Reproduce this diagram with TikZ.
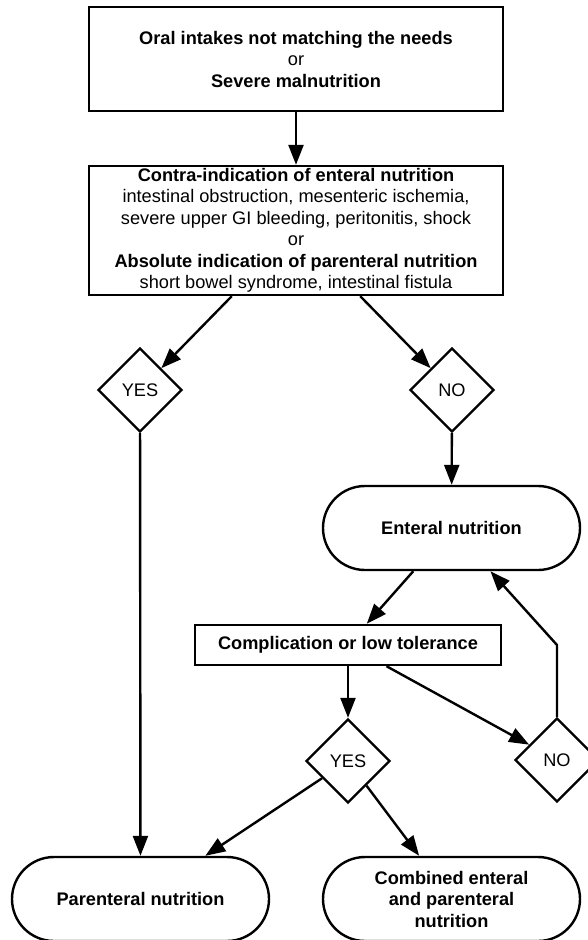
\documentclass[tikz,border=0pt]{standalone}
\usepackage{fontspec}
\setmainfont{Liberation Sans}
\usetikzlibrary{shapes.geometric,arrows.meta}

\begin{document}
\begin{tikzpicture}[x=1pt,y=-1pt,line width=2.4pt,
 font=\fontsize{18.2}{21.5}\selectfont,
 >={Triangle[length=20pt,width=15pt]},
 block/.style={rectangle,draw,align=center,inner sep=0pt},
 decision/.style={diamond,draw,minimum size=84pt,inner sep=0pt},
 terminal/.style={rectangle,draw,rounded corners=42pt,minimum width=257pt,
   minimum height=84pt,align=center,inner sep=0pt,font=\fontsize{18.2}{21.5}\selectfont\bfseries}]

  \useasboundingbox (0,0) rectangle (587,940);

  \node[block,minimum width=414pt,minimum height=104pt] (oral) at (296,59)
   {\textbf{Oral intakes not matching the needs}\\or\\\textbf{Severe malnutrition}};
  \node[block,minimum width=414pt,minimum height=129pt] (contra) at (296,230.5)
   {\textbf{Contra-indication of enteral nutrition}\\
    intestinal obstruction, mesenteric ischemia,\\
    severe upper GI bleeding, peritonitis, shock\\
    or\\
    \textbf{Absolute indication of parenteral nutrition}\\
    short bowel syndrome, intestinal fistula};
  \node[decision] (yes) at (140,390) {YES};
  \node[decision] (no) at (452,390) {NO};
  \node[terminal] (enteral) at (451.5,528) {Enteral nutrition};
  \node[block,minimum width=306pt,minimum height=40pt] (compl) at (348,645)
   {\textbf{Complication or low tolerance}};
  \node[decision] (yescompl) at (348,761) {YES};
  \node[decision] (nocompl) at (557,760) {NO};
  \node[terminal] (parent) at (140.5,899) {Parenteral nutrition};
  \node[terminal] (combined) at (451.5,899) {Combined enteral\\and parenteral\\nutrition};
  \coordinate (back) at (557,645);

  \foreach \s/\t in {oral/contra, contra/yes, contra/no, no/enteral, enteral/compl,
    compl/yescompl, compl/nocompl, yes/parent, yescompl/parent, yescompl/combined} {
   \path[draw,->] (\s) edge (\t);}
  \draw[->] (nocompl) -- (back) -- (enteral);
\end{tikzpicture}
\end{document}
